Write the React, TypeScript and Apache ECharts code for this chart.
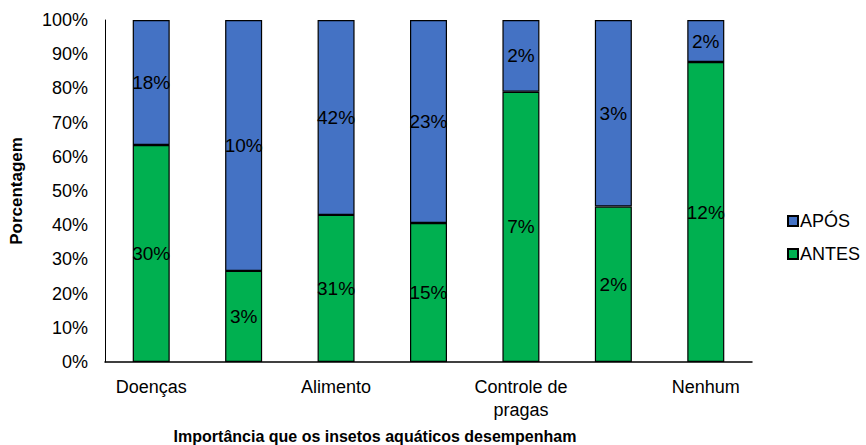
import React, { useEffect, useRef } from "react";
import * as echarts from "echarts";

// Categories (every other name is printed on the axis)
const categories = [
  "Doenças",
  "Bioindicação",
  "Alimento",
  "Polinização",
  "Controle de pragas",
  "Decomposição",
  "Nenhum",
];

// Percentage of respondents per category, before and after
const antes = [30.4, 3.45, 31.4, 15.4, 7.0, 2.4, 12.0];
const apos = [17.5, 9.5, 41.6, 22.5, 1.86, 2.88, 1.68];

const yTicks = [0, 10, 20, 30, 40, 50, 60, 70, 80, 90, 100];

const FONT = "'Liberation Sans', Arial, sans-serif";

export default function App() {
  const ref = useRef<HTMLDivElement>(null);

  useEffect(() => {
    if (!ref.current) return;
    const chart = echarts.init(ref.current, null, { renderer: "svg" });

    const totals = antes.map((a, i) => a + apos[i]);
    const share = (arr: number[]) =>
      arr.map((v, i) => ({ value: (v / totals[i]) * 100, raw: v }));

    const labelCfg = {
      show: true,
      position: "inside" as const,
      color: "#000",
      fontFamily: FONT,
      fontSize: 19,
      formatter: (p: any) => `${Math.round(p.data.raw)}%`,
    };

    chart.setOption({
      animation: false,
      backgroundColor: "#fff",
      grid: { left: 101, right: 114, top: 20, bottom: 83 },
      legend: {
        orient: "vertical",
        left: 782,
        top: 207,
        itemWidth: 10,
        itemHeight: 10,
        itemGap: 15,
        icon: "rect",
        textStyle: { fontFamily: FONT, fontSize: 18, color: "#000", padding: [0, 0, 0, -3] },
        data: ["APÓS", "ANTES"],
      },
      xAxis: {
        type: "category",
        data: categories,
        axisLine: { lineStyle: { color: "#000", width: 1.5 } },
        axisTick: { show: false },
        axisLabel: {
          interval: 1,
          color: "#000",
          fontFamily: FONT,
          fontSize: 18,
          margin: 13,
          lineHeight: 23,
          formatter: (v: string) => v.replace("Controle de ", "Controle de\n"),
        },
      },
      yAxis: {
        type: "value",
        min: 0,
        max: 100,
        interval: 10,
        name: "Porcentagem",
        nameLocation: "middle",
        nameGap: 80,
        nameTextStyle: { fontFamily: FONT, fontSize: 17, fontWeight: "bold", color: "#000" },
        axisLine: { show: true, lineStyle: { color: "#000", width: 1 } },
        axisTick: { show: false },
        splitLine: { show: false },
        axisLabel: {
          color: "#000",
          fontFamily: FONT,
          fontSize: 18,
          margin: 17,
          formatter: (v: number) => (yTicks.includes(v) ? `${v}%` : ""),
        },
      },
      series: [
        {
          name: "ANTES",
          type: "bar",
          stack: "total",
          barWidth: 37,
          data: share(antes),
          itemStyle: { color: "#00B050", borderColor: "#000", borderWidth: 1.2 },
          label: labelCfg,
        },
        {
          name: "APÓS",
          type: "bar",
          stack: "total",
          barWidth: 37,
          data: share(apos),
          itemStyle: { color: "#4472C4", borderColor: "#000", borderWidth: 1.2 },
          label: labelCfg,
        },
      ],
      graphic: [
        {
          type: "text",
          x: 375,
          y: 428,
          style: {
            text: "Importância que os insetos aquáticos desempenham",
            fontFamily: FONT,
            fontSize: 16,
            fontWeight: "bold",
            fill: "#000",
            align: "center",
            verticalAlign: "top",
          },
        },
      ],
    });

    return () => chart.dispose();
  }, []);

  return (
    <div
      ref={ref}
      style={{ position: "absolute", left: 0, top: 0, width: 866, height: 445 }}
    />
  );
}
